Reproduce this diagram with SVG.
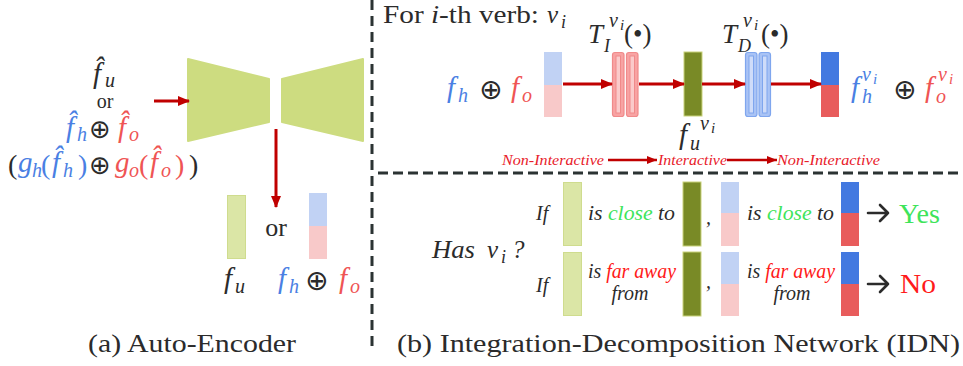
<svg xmlns="http://www.w3.org/2000/svg" width="963" height="366" viewBox="0 0 963 366">
<defs>
<marker id="ah" markerUnits="userSpaceOnUse" markerWidth="12" markerHeight="10" refX="11" refY="5" orient="auto">
<path d="M0,0 L12,5 L0,10 z" fill="#c00000"/>
</marker>
<marker id="ahs" markerUnits="userSpaceOnUse" markerWidth="10" markerHeight="8" refX="10" refY="4" orient="auto">
<path d="M0,0 L10,4 L0,8 z" fill="#c00000"/>
</marker>
<style>
.t{font-family:"Liberation Serif","DejaVu Serif",serif;fill:#2b2b2b}
.i{font-style:italic}
.b{fill:#4a7fe3}
.r{fill:#ef5454}
.op{font-family:"DejaVu Sans",sans-serif;fill:#2b2b2b}
.dash{stroke:#2b3333;stroke-width:3;fill:none}
.arr{stroke:#c00000;stroke-width:3;fill:none}
.arrs{stroke:#c00000;stroke-width:2.5;fill:none}
.lg{fill:#dbe6a6;stroke:#cfdc8e;stroke-width:1}
.dg{fill:#798a26;stroke:#c9d27a;stroke-width:1}
.lb{fill:#c1d2f4}
.lp{fill:#f8c9c9}
.db{fill:#4379e0}
.dr{fill:#e85c5c}
.tr{fill:#f8a3a3;stroke:#f08a8a;stroke-width:1.2}
.tri{fill:#fbcaca;stroke:#f08a8a;stroke-width:1}
.tb{fill:#a9c3f5;stroke:#7fa6ee;stroke-width:1.2}
.tbi{fill:#cfdcf9;stroke:#7fa6ee;stroke-width:1}
.nl{font-family:"Liberation Serif",serif;font-style:italic;fill:#e8202a;font-size:14.5px}
.cond{font-family:"Liberation Serif",serif;font-style:italic;fill:#2b2b2b;font-size:20px}
.gr{fill:#3ee45a}
.rd{fill:#ff1a1a}
.ka{stroke:#2b2b2b;stroke-width:2.6;fill:none;stroke-linecap:round;stroke-linejoin:round}
</style>
</defs>

<g id="separators">
<line class="dash" x1="372" y1="0" x2="372" y2="350" stroke-dasharray="10,6"/>
<line class="dash" x1="378" y1="173" x2="963" y2="173" stroke-dasharray="10,5"/>
</g>

<!-- (a) Auto-Encoder -->
<g id="input-label">
<text class="t i" x="93" y="83" font-size="29">f̂</text>
<text class="t i" x="105" y="87" font-size="20">u</text>
<text class="t" x="105" y="108" font-size="20" text-anchor="middle">or</text>
<text class="t i b" x="66" y="137" font-size="29">f̂</text>
<text class="t i b" x="77" y="141" font-size="20">h</text>
<text class="op" x="89" y="138" font-size="26">⊕</text>
<text class="t i r" x="118" y="137" font-size="29">f̂</text>
<text class="t i r" x="129" y="141" font-size="20">o</text>
<text class="t" x="8" y="174" font-size="28">(</text>
<text class="t i b" x="18" y="172" font-size="29">g</text>
<text class="t i b" x="32" y="177" font-size="20">h</text>
<text class="t b" x="41" y="174" font-size="28">(</text>
<text class="t i b" x="52" y="172" font-size="29">f̂</text>
<text class="t i b" x="63" y="177" font-size="20">h</text>
<text class="t b" x="78" y="174" font-size="28">)</text>
<text class="op" x="89" y="174" font-size="26">⊕</text>
<text class="t i r" x="115" y="172" font-size="29">g</text>
<text class="t i r" x="129" y="177" font-size="20">o</text>
<text class="t r" x="139" y="174" font-size="28">(</text>
<text class="t i r" x="150" y="172" font-size="29">f̂</text>
<text class="t i r" x="161" y="177" font-size="20">o</text>
<text class="t r" x="175" y="174" font-size="28">)</text>
<text class="t" x="189" y="174" font-size="28">)</text>
</g>

<g id="encoder">
<polygon points="188,59 269,79 269,122 188,141" fill="#cddc80" stroke="#cddc80" stroke-width="2" stroke-linejoin="round"/>
</g>
<g id="decoder">
<polygon points="282,79 363,59 363,141 282,122" fill="#cddc80" stroke="#cddc80" stroke-width="2" stroke-linejoin="round"/>
</g>

<g id="ae-outputs">
<rect class="lg" x="227.5" y="195.5" width="18" height="63"/>
<text class="t" x="276" y="236" font-size="26" text-anchor="middle">or</text>
<rect class="lb" x="309" y="193" width="18" height="33"/>
<rect class="lp" x="309" y="226" width="18" height="33"/>
<text class="t i" x="224" y="288" font-size="29">f</text>
<text class="t i" x="235" y="293" font-size="20">u</text>
<text class="t i b" x="278" y="288" font-size="29">f</text>
<text class="t i b" x="289" y="293" font-size="20">h</text>
<text class="op" x="305" y="290" font-size="28">⊕</text>
<text class="t i r" x="339" y="288" font-size="29">f</text>
<text class="t i r" x="350" y="293" font-size="20">o</text>
</g>

<text class="t" x="88" y="352" font-size="26" textLength="208" lengthAdjust="spacingAndGlyphs">(a) Auto-Encoder</text>

<!-- (b) IDN top -->
<text class="t" x="383" y="23" font-size="25" textLength="156" lengthAdjust="spacingAndGlyphs">For <tspan class="i">i</tspan>-th verb:</text>
<text class="t i" x="547" y="23" font-size="25">v</text>
<text class="t i" x="561" y="28" font-size="18">i</text>

<g id="idn-input">
<text class="t i b" x="447" y="97" font-size="29">f</text>
<text class="t i b" x="458" y="102" font-size="20">h</text>
<text class="op" x="479" y="99" font-size="28">⊕</text>
<text class="t i r" x="511" y="97" font-size="29">f</text>
<text class="t i r" x="522" y="102" font-size="20">o</text>
<rect class="lb" x="544" y="52" width="18" height="33"/>
<rect class="lp" x="544" y="85" width="18" height="32"/>
</g>

<g id="TI">
<rect class="tr" x="612.5" y="52.5" width="11.5" height="64" rx="2.5"/>
<rect class="tri" x="616" y="56" width="4.5" height="57"/>
<rect class="tr" x="626.5" y="52.5" width="11.5" height="64" rx="2.5"/>
<rect class="tri" x="630" y="56" width="4.5" height="57"/>
<text class="t i" x="588" y="43" font-size="27">T</text>
<text class="t i" x="604" y="52" font-size="18">I</text>
<text class="t i" x="609" y="27" font-size="20">v</text>
<text class="t i" x="620" y="30" font-size="15">i</text>
<text class="t" x="624" y="43" font-size="27">(•)</text>
</g>

<g id="fu">
<rect class="dg" x="684" y="52" width="18" height="64"/>
<text class="t i" x="679" y="144" font-size="29">f</text>
<text class="t i" x="690" y="150" font-size="20">u</text>
<text class="t i" x="700" y="130" font-size="20">v</text>
<text class="t i" x="711" y="133" font-size="15">i</text>
</g>

<g id="TD">
<rect class="tb" x="745.5" y="52.5" width="11.5" height="64" rx="2.5"/>
<rect class="tbi" x="749" y="56" width="4.5" height="57"/>
<rect class="tb" x="759" y="52.5" width="11.5" height="64" rx="2.5"/>
<rect class="tbi" x="762.5" y="56" width="4.5" height="57"/>
<text class="t i" x="722" y="43" font-size="27">T</text>
<text class="t i" x="738" y="52" font-size="18">D</text>
<text class="t i" x="743" y="27" font-size="20">v</text>
<text class="t i" x="754" y="30" font-size="15">i</text>
<text class="t" x="761" y="43" font-size="27">(•)</text>
</g>

<g id="idn-output">
<rect class="db" x="821" y="52" width="18" height="33"/>
<rect class="dr" x="821" y="85" width="18" height="32"/>
<text class="t i b" x="851" y="97" font-size="29">f</text>
<text class="t i b" x="862" y="103" font-size="20">h</text>
<text class="t i b" x="862" y="81" font-size="20">v</text>
<text class="t i b" x="873" y="84" font-size="15">i</text>
<text class="op" x="893" y="99" font-size="28">⊕</text>
<text class="t i r" x="925" y="97" font-size="29">f</text>
<text class="t i r" x="936" y="103" font-size="20">o</text>
<text class="t i r" x="938" y="81" font-size="20">v</text>
<text class="t i r" x="949" y="84" font-size="15">i</text>
</g>

<g id="interaction-labels">
<text class="nl" x="502" y="165" textLength="102" lengthAdjust="spacingAndGlyphs">Non-Interactive</text>
<text class="nl" x="658" y="165" textLength="69" lengthAdjust="spacingAndGlyphs">Interactive</text>
<text class="nl" x="777" y="165" textLength="103" lengthAdjust="spacingAndGlyphs">Non-Interactive</text>
</g>

<!-- (b) bottom -->
<g id="question">
<text class="t i" x="432" y="258" font-size="25" textLength="43" lengthAdjust="spacingAndGlyphs">Has</text>
<text class="t i" x="487" y="258" font-size="25">v</text>
<text class="t i" x="501" y="263" font-size="18">i</text>
<text class="t i" x="512" y="258" font-size="25">?</text>
</g>

<g id="row-yes">
<text class="cond" x="536" y="220">If</text>
<rect class="lg" x="563.5" y="182.5" width="18" height="63"/>
<text class="cond" x="588" y="220" textLength="87" lengthAdjust="spacingAndGlyphs">is <tspan class="gr">close</tspan> to</text>
<rect class="dg" x="683" y="182" width="18" height="64"/>
<text class="cond" x="706" y="224">,</text>
<rect class="lb" x="721" y="182" width="18" height="31"/>
<rect class="lp" x="721" y="213" width="18" height="33"/>
<text class="cond" x="747" y="220" textLength="87" lengthAdjust="spacingAndGlyphs">is <tspan class="gr">close</tspan> to</text>
<rect class="db" x="841" y="182" width="18" height="31"/>
<rect class="dr" x="841" y="213" width="18" height="33"/>
<path class="ka" d="M868,213 H888 M880,205 L888,213 L880,221"/>
<text class="t gr" x="899" y="223" font-size="27" textLength="41" lengthAdjust="spacingAndGlyphs">Yes</text>
</g>

<g id="row-no">
<text class="cond" x="536" y="292">If</text>
<rect class="lg" x="563.5" y="252.5" width="18" height="63"/>
<text class="cond" x="588" y="278" textLength="88" lengthAdjust="spacingAndGlyphs">is <tspan class="rd">far away</tspan></text>
<text class="cond" x="630" y="300" text-anchor="middle">from</text>
<rect class="dg" x="683" y="252" width="18" height="64"/>
<text class="cond" x="706" y="288">,</text>
<rect class="lb" x="721" y="252" width="18" height="32"/>
<rect class="lp" x="721" y="284" width="18" height="32"/>
<text class="cond" x="747" y="278" textLength="88" lengthAdjust="spacingAndGlyphs">is <tspan class="rd">far away</tspan></text>
<text class="cond" x="792" y="300" text-anchor="middle">from</text>
<rect class="db" x="841" y="252" width="18" height="32"/>
<rect class="dr" x="841" y="284" width="18" height="32"/>
<path class="ka" d="M868,284 H888 M880,276 L888,284 L880,292"/>
<text class="t rd" x="900" y="293" font-size="27" textLength="36" lengthAdjust="spacingAndGlyphs">No</text>
</g>

<text class="t" x="397" y="352" font-size="26" textLength="563" lengthAdjust="spacingAndGlyphs">(b) Integration-Decomposition Network (IDN)</text>

<g id="connectors">
<line class="arr" x1="154" y1="101" x2="189" y2="101" marker-end="url(#ah)"/>
<line class="arr" x1="276" y1="129" x2="276" y2="207" marker-end="url(#ah)"/>
<line class="arr" x1="563" y1="84" x2="612" y2="84" marker-end="url(#ah)"/>
<line class="arr" x1="639" y1="84" x2="684" y2="84" marker-end="url(#ah)"/>
<line class="arr" x1="702" y1="84" x2="745" y2="84" marker-end="url(#ah)"/>
<line class="arr" x1="771" y1="84" x2="821" y2="84" marker-end="url(#ah)"/>
<line class="arrs" x1="608" y1="160" x2="657" y2="160" marker-end="url(#ahs)"/>
<line class="arrs" x1="727" y1="160" x2="777" y2="160" marker-end="url(#ahs)"/>
</g>
</svg>
